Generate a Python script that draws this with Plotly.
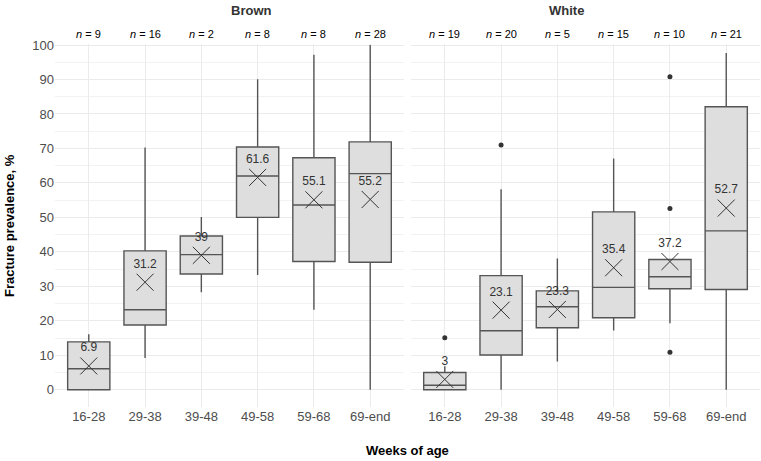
import plotly.graph_objects as go

categories = ["16-28", "29-38", "39-48", "49-58", "59-68", "69-end"]

brown_n = [9, 16, 2, 8, 8, 28]
brown_lower = [0.0, 9.2, 28.3, 33.3, 23.2, 0.0]
brown_q1 = [0.0, 18.8, 33.6, 50.0, 37.2, 37.0]
brown_median = [6.1, 23.2, 39.2, 62.0, 53.6, 62.7]
brown_q3 = [13.9, 40.3, 44.6, 70.4, 67.3, 71.9]
brown_upper = [16.1, 70.3, 50.1, 90.1, 97.2, 100.0]
brown_mean = [6.9, 31.2, 39.0, 61.6, 55.1, 55.2]

white_n = [19, 20, 5, 15, 10, 21]
white_lower = [0.0, 0.0, 8.2, 17.2, 19.3, 0.0]
white_q1 = [0.0, 10.1, 18.0, 20.9, 29.3, 29.1]
white_median = [1.3, 17.1, 24.1, 29.7, 32.8, 46.1]
white_q3 = [5.0, 33.1, 28.7, 51.6, 37.8, 82.1]
white_upper = [6.8, 58.2, 38.1, 67.1, 37.8, 97.7]
white_mean = [3.0, 23.1, 23.3, 35.4, 37.2, 52.7]

white_outlier_cat = ["16-28", "29-38", "59-68", "59-68", "59-68"]
white_outlier_val = [15.1, 71.0, 90.8, 52.6, 10.9]

FONT = "Liberation Sans, Arial, sans-serif"
BOX_FILL = "#dedede"
BOX_LINE = "#555555"
DARK = "#333333"

fig = go.Figure()

def add_panel(xa, ya, lower, q1, med, q3, upper, mean):
    fig.add_trace(go.Box(
        x=categories, q1=q1, median=med, q3=q3,
        lowerfence=lower, upperfence=upper,
        fillcolor=BOX_FILL, line=dict(color=BOX_LINE, width=1.4),
        whiskerwidth=0, width=0.75, boxpoints=False,
        xaxis=xa, yaxis=ya, showlegend=False, hoverinfo="skip",
    ))
    fig.add_trace(go.Scatter(
        x=categories, y=mean, mode="markers+text",
        marker=dict(symbol="x-thin-open", size=17, color=DARK,
                    line=dict(color=DARK, width=1)),
        text=[f"{m:g}" for m in mean], textposition="top center",
        textfont=dict(family=FONT, size=12, color=DARK),
        xaxis=xa, yaxis=ya, showlegend=False, hoverinfo="skip",
    ))

add_panel("x", "y", brown_lower, brown_q1, brown_median, brown_q3, brown_upper, brown_mean)
add_panel("x2", "y2", white_lower, white_q1, white_median, white_q3, white_upper, white_mean)

fig.add_trace(go.Scatter(
    x=white_outlier_cat, y=white_outlier_val, mode="markers",
    marker=dict(size=5, color=DARK), xaxis="x2", yaxis="y2",
    showlegend=False, hoverinfo="skip",
))

grid = "#ebebeb"
common_x = dict(type="category", categoryorder="array", categoryarray=categories,
                range=[-0.6, 5.6], showgrid=True, gridcolor=grid, gridwidth=1,
                zeroline=False, showline=False, ticks="",
                tickfont=dict(family=FONT, size=13, color="#4d4d4d"))
common_y = dict(range=[-5, 100.3], dtick=10, tick0=0, showgrid=True, gridcolor=grid,
                gridwidth=1, zeroline=False, showline=False, ticks="",
                minor=dict(dtick=5, tick0=0, showgrid=True, gridcolor="#f2f2f2", gridwidth=1),
                tickfont=dict(family=FONT, size=13, color="#4d4d4d"))

fig.update_layout(
    width=761, height=461,
    margin=dict(l=55, r=1, t=44, b=54),
    paper_bgcolor="white", plot_bgcolor="white",
    font=dict(family=FONT),
    xaxis=dict(domain=[0, 0.495], anchor="y", **common_x),
    xaxis2=dict(domain=[0.505, 1], anchor="y2", **common_x),
    yaxis=dict(anchor="x", **common_y),
    yaxis2=dict(anchor="x2", showticklabels=False, **{k: v for k, v in common_y.items() if k != "tickfont"}),
)

annotations = []
for xa, ns in (("x", brown_n), ("x2", white_n)):
    for c, n in zip(categories, ns):
        annotations.append(dict(x=c, xref=xa, y=1, yref="paper", yanchor="bottom",
                                yshift=2, text=f"<i>n</i> = {n}", showarrow=False,
                                font=dict(family=FONT, size=11, color="black")))
for label, xc in (("Brown", 0.2475), ("White", 0.7525)):
    annotations.append(dict(x=xc, xref="paper", y=1, yref="paper", yanchor="bottom", yshift=24,
                            text=f"<b>{label}</b>", showarrow=False,
                            font=dict(family=FONT, size=13, color="#333333")))
annotations.append(dict(x=0.5, xref="paper", y=0, yref="paper", yanchor="top", yshift=-34,
                        text="<b>Weeks of age</b>", showarrow=False,
                        font=dict(family=FONT, size=13, color="black")))
annotations.append(dict(x=0, xref="paper", xanchor="right", xshift=-36, y=0.5, yref="paper",
                        text="<b>Fracture prevalence, %</b>", textangle=-90, showarrow=False,
                        font=dict(family=FONT, size=13, color="black")))
fig.update_layout(annotations=annotations)

fig.write_html("out.html", config={"displayModeBar": False},
               post_script="document.body.style.margin='0';")
